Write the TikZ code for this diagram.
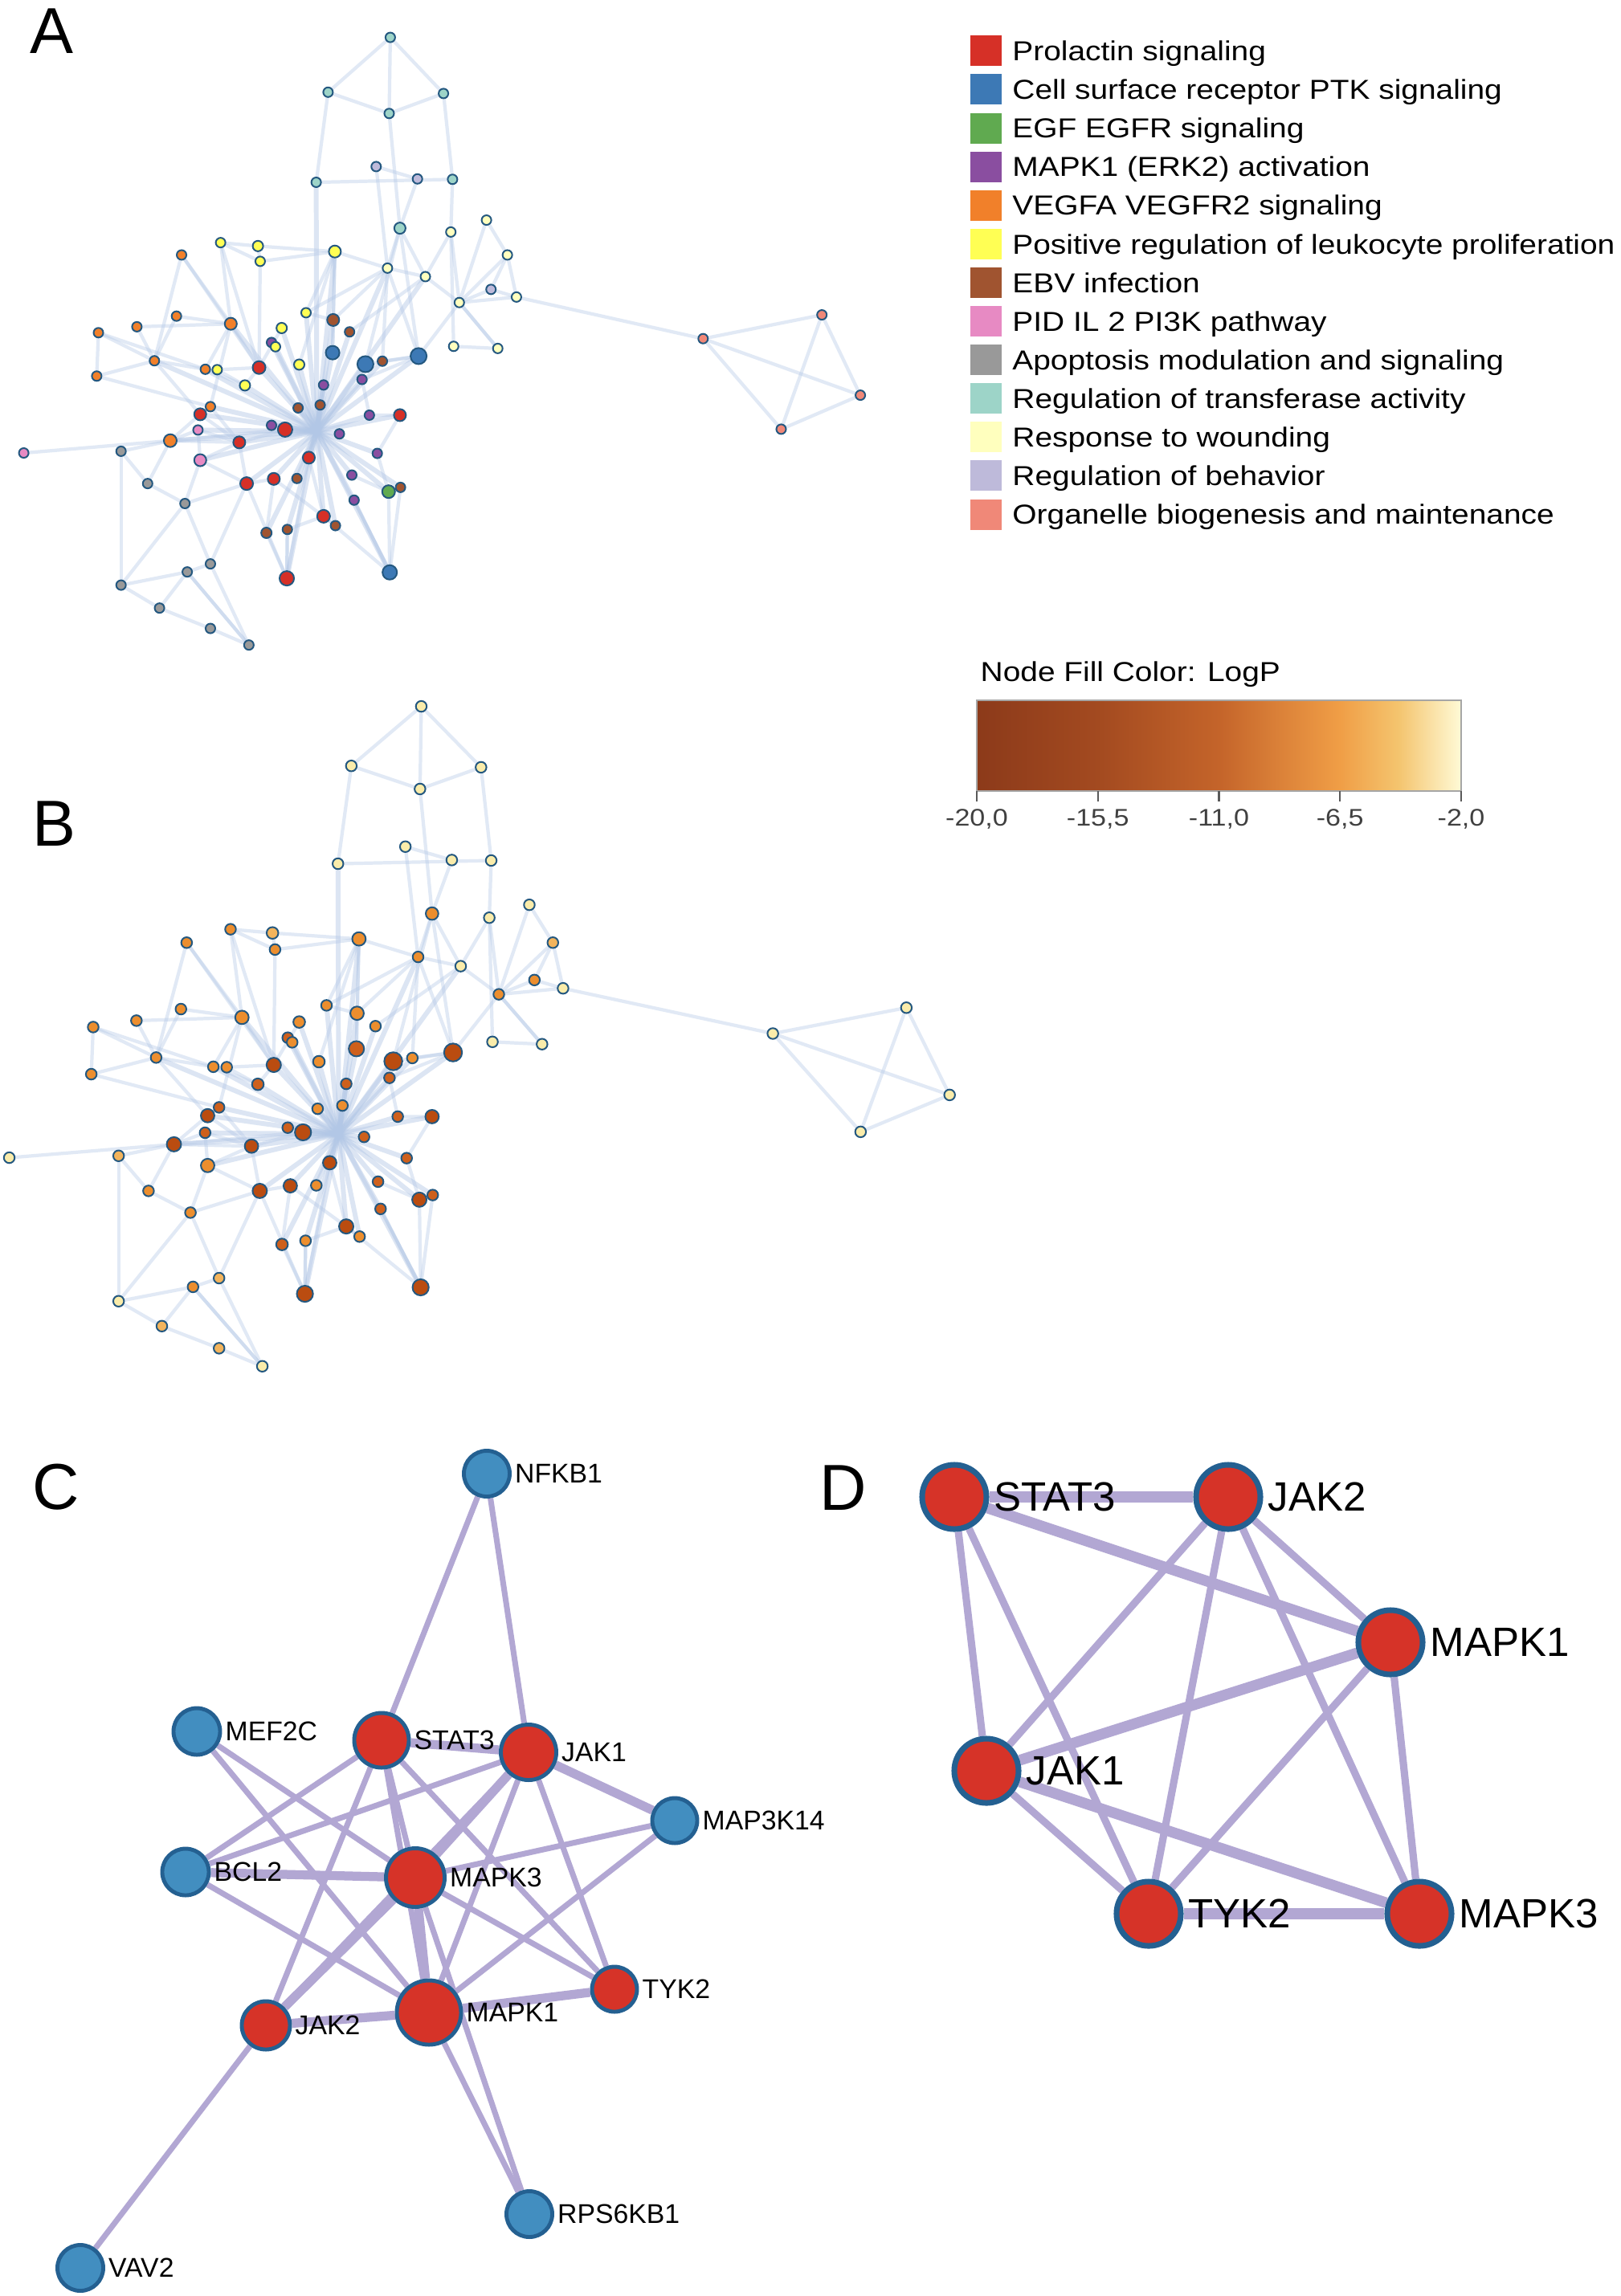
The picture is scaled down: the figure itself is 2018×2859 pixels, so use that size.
\documentclass[tikz,border=0pt]{standalone}
\usepackage{fontspec}
\setmainfont{Liberation Sans}
\newfontfamily\widefont{Liberation Sans}[FakeStretch=1.14]
\usepackage{tikz}
\usetikzlibrary{
  backgrounds, % edges under the nodes
  positioning}

% term colours (panel A)
\definecolor{prl}{RGB}{214,48,39}
\definecolor{ptk}{RGB}{61,121,181}
\definecolor{egf}{RGB}{96,170,80}
\definecolor{mapk}{RGB}{138,78,160}
\definecolor{vegf}{RGB}{241,128,42}
\definecolor{leuk}{RGB}{255,255,84}
\definecolor{ebv}{RGB}{160,84,48}
\definecolor{pid}{RGB}{231,138,195}
\definecolor{apop}{RGB}{153,153,153}
\definecolor{trans}{RGB}{157,212,200}
\definecolor{wound}{RGB}{255,255,190}
\definecolor{behav}{RGB}{190,186,218}
\definecolor{organ}{RGB}{240,136,120}
% LogP colours (panel B)
\definecolor{lpa}{RGB}{186,76,16}
\definecolor{lpb}{RGB}{206,96,28}
\definecolor{lpc}{RGB}{236,142,46}
\definecolor{lpd}{RGB}{243,180,92}
\definecolor{lpe}{RGB}{250,236,170}
\definecolor{lp0}{RGB}{140,58,26}
\definecolor{lp1}{RGB}{163,74,32}
\definecolor{lp2}{RGB}{196,100,42}
\definecolor{lp3}{RGB}{218,128,56}
\definecolor{lp4}{RGB}{240,158,70}
\definecolor{lp5}{RGB}{244,196,110}
\definecolor{lp6}{RGB}{255,250,214}
\pgfdeclarehorizontalshading{logp}{100bp}{color(0bp)=(lp0); color(25bp)=(lp0);
  color(37.5bp)=(lp1); color(50bp)=(lp2); color(56bp)=(lp3); color(62.5bp)=(lp4);
  color(68.5bp)=(lp5); color(75bp)=(lp6); color(100bp)=(lp6)}
\definecolor{termborder}{RGB}{36,88,128}
\definecolor{webblue}{RGB}{178,199,230}
\definecolor{geneblue}{RGB}{66,142,192}
\definecolor{genered}{RGB}{214,51,40}
\definecolor{geneborder}{RGB}{36,96,145}
\definecolor{ppililac}{RGB}{178,167,211}

\tikzstyle{panel} = [font=\fontsize{23}{23}\selectfont, anchor=base west, inner sep=0pt]
\tikzstyle{term} = [circle, draw=termborder, line width=0.57pt, inner sep=0pt]
\tikzstyle{web} = [draw=webblue, line width=1.2pt, opacity=0.38]
\tikzstyle{spoke} = [draw=webblue, line width=1.7pt, opacity=0.45]
\tikzstyle{swatch} = [minimum width=0.39cm, minimum height=0.38cm, inner sep=0pt]
\tikzstyle{keytext} = [font=\widefont\fontsize{9.7}{11}\selectfont, anchor=base west, inner sep=0pt]
\tikzstyle{gene} = [circle, draw=geneborder, line width=1.4pt, inner sep=0pt, fill=geneblue]
\tikzstyle{hub} = [gene, fill=genered]
\tikzstyle{ctag} = [font=\fontsize{9.6}{10}\selectfont, inner sep=1pt]
\tikzstyle{dgene} = [hub, line width=2pt, minimum size=0.80cm]
\tikzstyle{dtag} = [font=\fontsize{14.5}{15}\selectfont, inner sep=1.5pt]
\tikzstyle{ppi} = [draw=ppililac, line width=2pt]
\tikzstyle{heavy} = [ppi, line width=3.2pt]

% network of enriched terms: index/x/y/diameter/colour A/colour B
\newcommand\termlist{1/690/88/12/trans/lpe, 2/580/217/12/trans/lpe, 3/784/220/12/trans/lpe,
  4/688/267/12/trans/lpe, 5/665/392/12/behav/lpe, 6/738/421/12/behav/lpe, 7/800/422/12/trans/lpe,
  8/559/429/12/trans/lpe, 9/707/537/14/trans/lpc, 10/797/546/12/wound/lpe, 11/860/518/12/wound/lpe,
  12/897/600/12/wound/lpd, 13/685/631/12/wound/lpc, 14/752/651/12/wound/lpe, 15/868/681/12/behav/lpc,
  16/913/699/12/wound/lpe, 17/812/712/12/wound/lpc, 18/802/815/12/wound/lpe, 19/880/820/12/wound/lpe,
  20/1243/797/12/organ/lpe, 21/1453/741/12/organ/lpe, 22/1521/930/12/organ/lpe, 23/1381/1010/12/organ/lpe,
  24/390/571/12/leuk/lpc, 25/456/579/13/leuk/lpd, 26/460/615/12/leuk/lpc, 27/592/592/15/leuk/lpc,
  28/321/600/12/vegf/lpc, 29/541/736/12/leuk/lpc, 30/498/772/13/leuk/lpc, 31/589/753/15/ebv/lpc,
  32/618/781/12/ebv/lpc, 33/408/762/15/vegf/lpc, 34/312/744/12/vegf/lpc, 35/242/769/12/vegf/lpc,
  36/174/783/12/vegf/lpc, 37/171/885/12/vegf/lpc, 38/273/849/12/vegf/lpc, 39/363/869/12/vegf/lpc,
  40/384/870/12/leuk/lpc, 41/480/806/12/mapk/lpb, 42/487/816/12/leuk/lpc, 43/458/865/16/prl/lpa,
  44/529/858/13/leuk/lpc, 45/588/830/17/ptk/lpb, 46/646/857/20/ptk/lpa, 47/676/850/12/ebv/lpc,
  48/740/838/20/ptk/lpa, 49/433/907/13/leuk/lpb, 50/572/906/12/mapk/lpb, 51/640/893/12/mapk/lpb,
  52/372/957/12/vegf/lpb, 53/354/975/15/prl/lpa, 54/527/960/12/ebv/lpc, 55/566/953/12/ebv/lpc,
  56/653/977/12/mapk/lpb, 57/707/977/15/prl/lpa, 58/350/1012/12/pid/lpb, 59/301/1037/16/vegf/lpa,
  60/480/1001/12/mapk/lpb, 61/504/1011/18/prl/lpa, 62/600/1021/12/mapk/lpb, 63/423/1041/15/prl/lpa,
  64/214/1062/12/apop/lpd, 65/42/1066/12/pid/lpe, 66/354/1083/15/pid/lpc, 67/546/1077/15/prl/lpa,
  68/667/1067/12/mapk/lpb, 69/261/1138/12/apop/lpc, 70/436/1138/16/prl/lpa, 71/484/1127/15/prl/lpa,
  72/525/1126/12/ebv/lpc, 73/622/1118/12/mapk/lpb, 74/687/1157/16/egf/lpa, 75/708/1147/12/ebv/lpb,
  76/327/1185/12/apop/lpc, 77/626/1177/12/mapk/lpb, 78/572/1215/16/prl/lpa, 79/593/1237/12/ebv/lpc,
  80/471/1254/13/ebv/lpb, 81/508/1246/12/ebv/lpc, 82/372/1327/12/apop/lpd, 83/331/1346/12/apop/lpc,
  84/214/1377/12/apop/lpe, 85/507/1361/18/prl/lpa, 86/689/1347/18/ptk/lpa, 87/282/1431/12/apop/lpd,
  88/372/1479/12/apop/lpd, 89/440/1518/12/apop/lpe}
\newcommand\hublinks{8,13,14,27,29,30,31,32,33,38,39,41,42,43,44,45,46,47,48,49,50,51,52,53,54,
  55,56,57,58,59,60,61,62,63,66,67,68,70,71,72,73,74,75,77,78,79,80,81,85,86}
\newcommand\webpairs{1/2,1/3,1/4,2/4,3/4,2/8,3/7,4/9,8/7,5/6,5/13,6/9,7/10,10/18,10/17,11/12,
  12/16,12/15,15/16,16/17,17/19,18/19,13/14,14/17,9/13,16/20,20/21,20/22,21/23,22/23,21/22,20/23,
  24/25,25/26,26/43,24/33,27/29,27/44,28/33,28/38,34/38,35/38,36/37,36/38,37/38,38/39,39/40,33/43,
  40/49,59/64,59/58,58/66,64/69,66/76,69/76,76/84,76/82,82/83,83/84,84/87,87/88,88/89,82/89,83/89,
  65/59,63/70,70/85,71/80,78/79,85/81,86/74,74/75,57/56,48/47,46/51,45/31,32/14,29/13,64/84,53/52,
  9/14,11/17,24/43,28/43,33/39,33/52,36/39,34/33,35/33,37/52,38/53,59/53,59/63,66/70,66/63,69/59,
  76/70,82/70,87/83,89/83,85/80,86/78,86/77,45/27,31/27,29/31,46/9,48/9,48/17,48/13,47/13,31/13,
  27/13,12/17,15/17,19/17,10/14,26/27,25/27,24/26,43/30,43/49,39/49,40/43,52/63,53/63,58/63,59/61,
  63/61,70/71,71/78,67/78,67/85,78/81,81/85,57/68,68/74,73/74,75/86,77/86,56/51,51/48,46/48}

\begin{document}
\begin{tikzpicture}[x=0.01cm, y=-0.01cm]
\begin{scope}[on background layer]
\fill[white] (0,0) rectangle (2018,2859);
\end{scope}
\useasboundingbox (0,0) rectangle (2018,2859);

% panel letters
\node[panel] (lblA) at (37,66) {A};
\node[panel] (lblB) at (40,1053) {B};
\node[panel] (lblC) at (40,1879) {C};
\node[panel] (lblD) at (1020,1880) {D};

% A: terms coloured by cluster
\begin{scope}[xscale=0.7042, yscale=0.5291]
\foreach \i/\x/\y/\sz/\ca/\cb in \termlist
  \node[term, fill=\ca, minimum size=\sz*0.1mm] (a\i) at (\x,\y) {};
\coordinate (ahub) at (560,1015);
\begin{scope}[on background layer]
\foreach \i in \hublinks \draw[spoke] (ahub) -- (a\i);
\foreach \p/\q in \webpairs \draw[web] (a\p) -- (a\q);
\end{scope}
\end{scope}

% B: same terms coloured by LogP
\begin{scope}[shift={(-21.7,829)}, xscale=0.7915, yscale=0.5746]
\foreach \i/\x/\y/\sz/\ca/\cb in \termlist
  \node[term, fill=\cb, minimum size=1.12*\sz*0.1mm] (b\i) at (\x,\y) {};
\coordinate (bhub) at (560,1015);
\begin{scope}[on background layer]
\foreach \i in \hublinks \draw[spoke] (bhub) -- (b\i);
\foreach \p/\q in \webpairs \draw[web] (b\p) -- (b\q);
\end{scope}
\end{scope}

% legend of clusters
\foreach \c/\t [count=\k from 0] in {prl/Prolactin signaling, ptk/Cell surface receptor PTK signaling,
  egf/EGF EGFR signaling, mapk/MAPK1 (ERK2) activation, vegf/VEGFA VEGFR2 signaling,
  leuk/Positive regulation of leukocyte proliferation, ebv/EBV infection, pid/PID IL 2 PI3K pathway,
  apop/Apoptosis modulation and signaling, trans/Regulation of transferase activity,
  wound/Response to wounding, behav/Regulation of behavior, organ/Organelle biogenesis and maintenance}
{
  \node[swatch, fill=\c] (key\k) at (1227.5,63.3+48.1*\k) {};
  \node[keytext] (txt\k) at ([xshift=0.12cm, yshift=-0.122cm]key\k.east) {\t};
}

% colour bar
\node[keytext] (cbtitle) at (1220,848) {Node Fill Color: LogP};
\shade[shading=logp] (1216,872) rectangle (1819,985);
\draw[black!35, line width=0.3pt] (1216,872) rectangle (1819,985);
\foreach \v [count=\j from 0] in {{-20,0},{-15,5},{-11,0},{-6,5},{-2,0}}
{
  \draw[black!65, line width=0.6pt] (1216+150.75*\j,985) -- (1216+150.75*\j,998);
  \node[font=\widefont\fontsize{8.5}{9}\selectfont, text=black!75, inner sep=0pt] (cbv\j)
    at (1216+150.75*\j,1020) {\v};
}

% C: PPI network
\node[gene, minimum size=0.57cm, label={[ctag]east:NFKB1}] (cNFKB1) at (606,1835) {};
\node[gene, minimum size=0.58cm, label={[ctag]east:MEF2C}] (cMEF2C) at (245,2156) {};
\node[hub, minimum size=0.68cm, label={[ctag]east:STAT3}] (cSTAT3) at (475,2167) {};
\node[hub, minimum size=0.69cm, label={[ctag]east:JAK1}] (cJAK1) at (658,2182) {};
\node[gene, minimum size=0.56cm, label={[ctag]east:MAP3K14}] (cMAP3K14) at (840,2267) {};
\node[gene, minimum size=0.58cm, label={[ctag]east:BCL2}] (cBCL2) at (231,2331) {};
\node[hub, minimum size=0.73cm, label={[ctag]east:MAPK3}] (cMAPK3) at (517,2338) {};
\node[hub, minimum size=0.56cm, label={[ctag]east:TYK2}] (cTYK2) at (765,2477) {};
\node[hub, minimum size=0.60cm, label={[ctag]east:JAK2}] (cJAK2) at (331,2522) {};
\node[hub, minimum size=0.80cm, label={[ctag]east:MAPK1}] (cMAPK1) at (534,2506) {};
\node[gene, minimum size=0.57cm, label={[ctag]east:RPS6KB1}] (cRPS6KB1) at (659,2757) {};
\node[gene, minimum size=0.57cm, label={[ctag]east:VAV2}] (cVAV2) at (100,2824) {};
\begin{scope}[on background layer]
\foreach \p/\q in {NFKB1/STAT3, NFKB1/JAK1, MEF2C/MAPK3, MEF2C/MAPK1, BCL2/STAT3, BCL2/JAK1,
  BCL2/MAPK1, STAT3/MAPK3, STAT3/JAK2, STAT3/TYK2, STAT3/MAPK1, JAK1/MAPK1, JAK1/TYK2, JAK1/JAK2,
  MAP3K14/MAPK3, MAP3K14/MAPK1, JAK2/VAV2, MAPK1/RPS6KB1, MAPK3/RPS6KB1, MAPK3/TYK2}
  \draw[ppi] (c\p) -- (c\q);
\foreach \p/\q in {STAT3/JAK1, JAK1/MAP3K14, JAK1/MAPK3, MAPK3/JAK2, MAPK3/MAPK1, MAPK1/JAK2,
  MAPK1/TYK2, BCL2/MAPK3}
  \draw[heavy] (c\p) -- (c\q);
\end{scope}

% D: core module
\node[dgene, label={[dtag]east:STAT3}] (dSTAT3) at (1188,1864) {};
\node[dgene, label={[dtag]east:JAK2}] (dJAK2) at (1529,1864) {};
\node[dgene, label={[dtag]east:MAPK1}] (dMAPK1) at (1731,2045) {};
\node[dgene, label={[dtag]east:JAK1}] (dJAK1) at (1228,2205) {};
\node[dgene, label={[dtag]east:TYK2}] (dTYK2) at (1430,2383) {};
\node[dgene, label={[dtag]east:MAPK3}] (dMAPK3) at (1767,2383) {};
\begin{scope}[on background layer]
\foreach \p/\q in {STAT3/JAK1, STAT3/TYK2, JAK2/JAK1, JAK2/TYK2, JAK2/MAPK1, JAK2/MAPK3,
  MAPK1/TYK2, MAPK1/MAPK3, JAK1/TYK2}
  \draw[ppi, line width=2.6pt] (d\p) -- (d\q);
\foreach \p/\q in {STAT3/JAK2, STAT3/MAPK1, JAK1/MAPK1, JAK1/MAPK3, TYK2/MAPK3}
  \draw[ppi, line width=3.8pt] (d\p) -- (d\q);
\end{scope}

\end{tikzpicture}
\end{document}
